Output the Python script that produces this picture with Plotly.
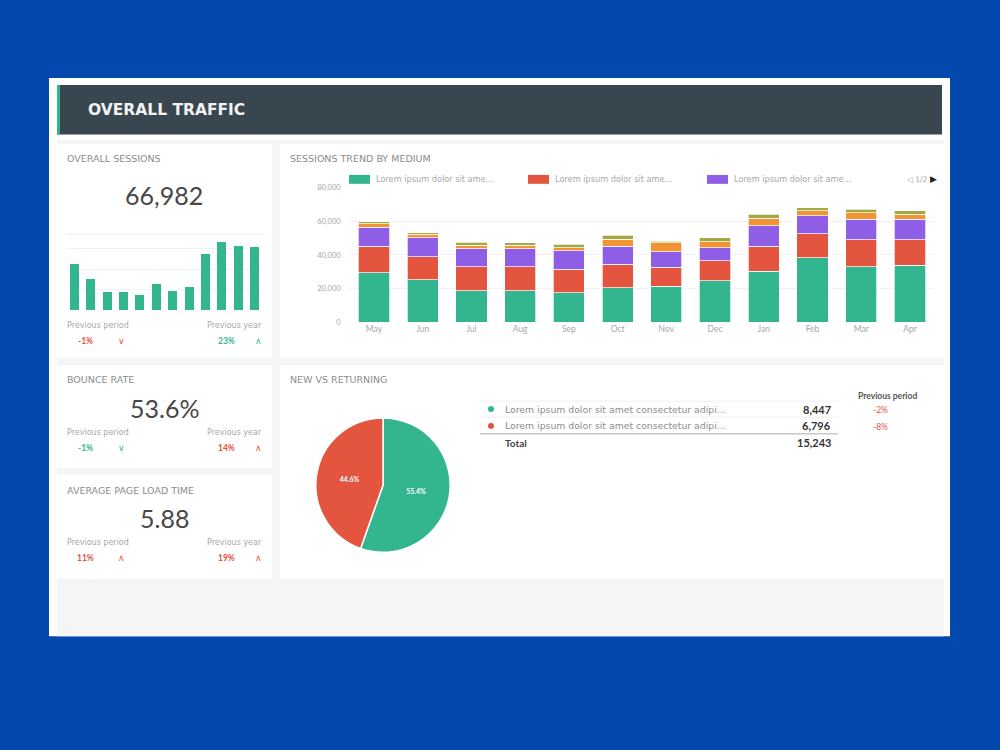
import plotly.graph_objects as go

# ---------------- data ----------------
months = ["May", "Jun", "Jul", "Aug", "Sep", "Oct", "Nov", "Dec", "Jan", "Feb", "Mar", "Apr"]
green_vals = [29400, 25300, 18800, 18800, 17500, 20400, 21400, 24700, 30400, 38200, 32900, 33900]
red_vals = [15700, 13700, 14100, 14100, 14100, 14100, 11200, 11800, 14700, 14300, 16100, 15100]
purple_vals = [11400, 11200, 10800, 10800, 10800, 10800, 9400, 7800, 12200, 10800, 12200, 12200]
orange_vals = [2200, 2000, 2000, 2000, 2000, 3900, 5300, 3500, 4500, 2900, 3900, 3100]
olive_vals = [1200, 1000, 1800, 1500, 2000, 2400, 1000, 2400, 2500, 2000, 2000, 2000]
series_names = ["Lorem ipsum dolor sit ame...", "Lorem ipsum dolor sit ame...", "Lorem ipsum dolor sit ame...",
                "Lorem ipsum dolor sit ame...", "Lorem ipsum dolor sit ame..."]

mini_sessions = [22.7, 15.5, 8.7, 8.7, 7.7, 12.6, 9.2, 11.6, 27.5, 33.3, 31.4, 30.9]

pie_labels = ["New", "Returning"]
pie_values = [8447, 6796]
table_labels = ["Lorem ipsum dolor sit amet consectetur adipi...", "Lorem ipsum dolor sit amet consectetur adipi..."]
table_values = ["8,447", "6,796"]
table_prev = ["-2%", "-8%"]
table_total = "15,243"

kpi_titles = ["OVERALL SESSIONS", "BOUNCE RATE", "AVERAGE PAGE LOAD TIME"]
kpi_values = ["66,982", "53.6%", "5.88"]
kpi_prev_period = ["-1%", "-1%", "11%"]
kpi_prev_year = ["23%", "14%", "19%"]

# ---------------- style ----------------
BLUE = "#0248ad"
GREEN = "#33b690"
RED = "#e4553f"
PURPLE = "#8e5ee6"
ORANGE = "#f39433"
OLIVE = "#a2a844"
GRAY = "#8c8c8c"
LIGHT = "#a8a8a8"
DARK = "#474747"
FONT = "Lato"
WIDE = "DejaVu Sans"


def X(px):
    return px / 1000.0


def Y(py):
    return 1 - py / 750.0


fig = go.Figure()

# mini bar chart (overall sessions)
fig.add_trace(go.Bar(x=months, y=mini_sessions, width=0.55, marker=dict(color=GREEN, line=dict(width=0)),
                     xaxis="x", yaxis="y", showlegend=False, hoverinfo="skip"))

# stacked bars
for vals, col, name in zip([green_vals, red_vals, purple_vals, orange_vals, olive_vals],
                           [GREEN, RED, PURPLE, ORANGE, OLIVE], series_names):
    fig.add_trace(go.Bar(x=months, y=vals, name=name, marker=dict(color=col, line=dict(color="white", width=0.7)),
                         xaxis="x2", yaxis="y2", showlegend=False))

# pie
fig.add_trace(go.Pie(labels=pie_labels, values=pie_values, sort=False, direction="clockwise", rotation=0,
                     marker=dict(colors=[GREEN, RED], line=dict(color="white", width=1.5)),
                     texttemplate="<b>%{percent:.1%}</b>", textposition="inside", insidetextorientation="horizontal",
                     textfont=dict(color="white", size=7, family=FONT),
                     domain=dict(x=[X(315), X(451)], y=[Y(555), Y(419)]), showlegend=False, hoverinfo="label+value"))

shapes = []


def rect(x0, y0, x1, y1, color, line=None):
    shapes.append(dict(type="rect", xref="paper", yref="paper", x0=X(x0), x1=X(x1), y0=Y(y1), y1=Y(y0),
                       fillcolor=color, line=dict(width=0) if line is None else line, layer="below"))


def hline(x0, x1, y, color, width=1):
    shapes.append(dict(type="line", xref="paper", yref="paper", x0=X(x0), x1=X(x1), y0=Y(y), y1=Y(y),
                       line=dict(color=color, width=width), layer="below"))


# card
rect(49, 75, 950, 640, "#ffffff")
rect(57, 138, 944, 640, "#f4f5f5")
# header
rect(57, 82, 942, 132, "#38474f")
rect(57, 82, 60, 132, "#2fb58f")
# panels
rect(57, 142, 272, 358, "#ffffff")
rect(280, 142, 944, 358, "#ffffff")
rect(57, 366, 272, 470, "#ffffff")
rect(57, 477, 272, 582, "#ffffff")
rect(280, 366, 944, 582, "#ffffff")
# separators
hline(66, 264, 233, "#eeeeee")
hline(480, 838, 435, "#c8c8c8", 1.5)
hline(480, 838, 402, "#f0f0f0")
hline(480, 838, 418, "#f0f0f0")

annotations = []


def text(x, y, s, size=9, color=GRAY, anchor="left", bold=False, family=FONT):
    if bold:
        s = "<b>" + s + "</b>"
    annotations.append(dict(x=X(x), y=Y(y), xref="paper", yref="paper", text=s, showarrow=False,
                            xanchor=anchor, yanchor="middle", font=dict(size=size, color=color, family=family)))


text(86, 107, "OVERALL TRAFFIC", 15.5, "#f2f2f2", bold=True, family=WIDE)

# KPI panels
kpi_rows = [(156, 193, 325, 341), (380, 409, 434, 449), (492, 520, 545, 561)]
pp_colors = [RED, GREEN, RED]
py_colors = [GREEN, RED, RED]
pp_arrows = ["∨", "∨", "∧"]
py_arrows = ["∧", "∧", "∧"]
for i, (yt, yv, yp, yc) in enumerate(kpi_rows):
    text(65, yt, kpi_titles[i], 9.5, GRAY, family=WIDE)
    text(164, yv, kpi_values[i], 25, DARK, anchor="center")
    text(65, yp, "Previous period", 8, LIGHT, family=WIDE)
    text(264, yp, "Previous year", 8, LIGHT, anchor="right", family=WIDE)
    text(85, yc, kpi_prev_period[i], 8.5, pp_colors[i], anchor="center", bold=True)
    text(121, yc, pp_arrows[i], 9, pp_colors[i], anchor="center", family=WIDE)
    text(226, yc, kpi_prev_year[i], 8.5, py_colors[i], anchor="center", bold=True)
    text(258, yc, py_arrows[i], 9, py_colors[i], anchor="center", family=WIDE)

# stacked chart panel
text(288, 156, "SESSIONS TREND BY MEDIUM", 9.5, GRAY, family=WIDE)
leg_x = [349, 528, 707]
for lx, col, name in zip(leg_x, [GREEN, RED, PURPLE], series_names[:3]):
    rect(lx, 173, lx + 21, 182, col)
    text(lx + 25, 177.5, name, 8.2, LIGHT, family=WIDE)
text(905, 177.5, "◁ 1/2", 7.5, LIGHT, family=WIDE)
text(928, 177.5, "▶", 9, "#222222", family=WIDE)

# pie panel
text(288, 380, "NEW VS RETURNING", 9.5, GRAY, family=WIDE)
text(887, 397, "Previous period", 8.5, "#555555", anchor="center", bold=True)
for yy, col, lab, val, prev in zip([410, 427], [GREEN, RED], table_labels, table_values, table_prev):
    shapes.append(dict(type="circle", xref="paper", yref="paper", x0=X(488), x1=X(494), y0=Y(yy + 3), y1=Y(yy - 3),
                       fillcolor=col, line=dict(width=0)))
    text(503, yy, lab, 9.3, GRAY, family=WIDE)
    text(833, yy, val, 11, "#333333", anchor="right", bold=True)
    text(880, yy + 1, prev, 8.5, RED, anchor="center")
text(503, 444, "Total", 10, "#444444", bold=True)
text(833, 444, table_total, 11, "#333333", anchor="right", bold=True)

fig.update_layout(
    width=1000, height=750, margin=dict(l=0, r=0, t=0, b=0),
    paper_bgcolor=BLUE, plot_bgcolor="rgba(0,0,0,0)",
    barmode="stack", bargap=0.36,
    font=dict(family=FONT, color=GRAY),
    shapes=shapes, annotations=annotations,
    xaxis=dict(domain=[X(66.3), X(262.7)], showticklabels=False, showgrid=False, zeroline=False, showline=False,
               fixedrange=True),
    yaxis=dict(domain=[Y(310), Y(237.5)], range=[0, 35], dtick=10, showticklabels=False, showgrid=True,
               gridcolor="#f2f2f2", zeroline=False, showline=False, fixedrange=True),
    xaxis2=dict(domain=[X(349.6), X(934.3)], anchor="y2", showgrid=False, zeroline=False, showline=False,
                tickfont=dict(size=8.5, color=LIGHT, family=FONT), ticks=""),
    yaxis2=dict(domain=[Y(322), Y(186)], anchor="x2", range=[0, 80000], dtick=20000, tickformat=",",
                showgrid=True, gridcolor="#f0f0f0", zeroline=False, showline=False,
                tickfont=dict(size=7.5, color=LIGHT, family=FONT), ticks="", ticklabelstandoff=8),
)

fig.write_html("out.html")
